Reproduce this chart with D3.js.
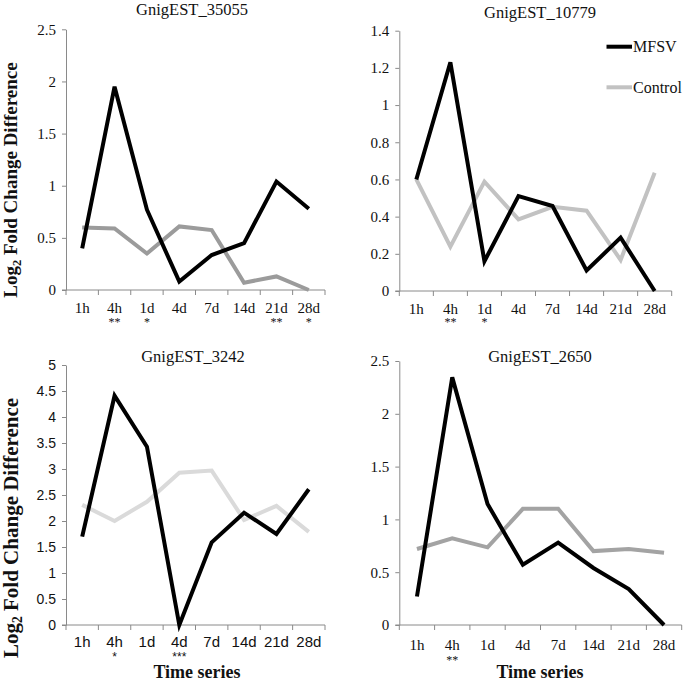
<!DOCTYPE html>
<html><head><meta charset="utf-8">
<script src="https://cdn.jsdelivr.net/npm/d3@7"></script>
<style>body{margin:0;background:#fff}</style></head>
<body>
<svg id="c" width="685" height="681"></svg>
<script>
const categories = ["1h","4h","1d","4d","7d","14d","21d","28d"];
const titles = ["GnigEST_35055","GnigEST_10779","GnigEST_3242","GnigEST_2650"];
const mfsv35055 = [0.40,1.95,0.77,0.08,0.335,0.45,1.04,0.78];
const control35055 = [0.60,0.59,0.35,0.61,0.575,0.07,0.13,0.0];
const mfsv10779 = [0.60,1.23,0.16,0.51,0.457,0.11,0.287,0.0];
const control10779 = [0.60,0.238,0.588,0.385,0.453,0.432,0.167,0.636];
const mfsv3242 = [1.70,4.41,3.43,0.0,1.59,2.16,1.75,2.61];
const control3242 = [2.31,2.0,2.37,2.93,2.97,2.02,2.29,1.79];
const mfsv2650 = [0.27,2.345,1.146,0.57,0.78,0.54,0.34,0.0];
const control2650 = [0.72,0.82,0.735,1.10,1.10,0.70,0.72,0.685];
const sig35055 = ["","**","*","","","","**","*"];
const sig10779 = ["","**","*","","","","",""];
const sig3242 = ["","*","","***","","","",""];
const sig2650 = ["","**","","","","","",""];
const yMax = [2.5,1.4,5,2.5];
const yStep = [0.5,0.2,0.5,0.5];
const seriesNames = ["MFSV","Control"];
const xTitle = "Time series";

const SERIF = "'Liberation Serif','Times New Roman',serif";
const SANS = "'Liberation Sans',Arial,sans-serif";

const panels = [
  {mfsv:mfsv35055, ctrl:control35055, sig:sig35055, x0:66, x1:325, yb:290, yt:29.3, font:SERIF, ytSize:15, ctrlColor:"#9b9b9b",
   title:{x:192,y:15}, labY:312.5, sigY:325.5, ylab:{x:16.5, y:180, size:19}},
  {mfsv:mfsv10779, ctrl:control10779, sig:sig10779, x0:399.3, x1:671.7, yb:291, yt:30.7, font:SERIF, ytSize:15, ctrlColor:"#c2c2c2",
   title:{x:540,y:18}, labY:313.5, sigY:326, legend:true},
  {mfsv:mfsv3242, ctrl:control3242, sig:sig3242, x0:66, x1:325, yb:625, yt:365, font:SANS, ytSize:14, ctrlColor:"#dadada",
   title:{x:193,y:362}, labY:646.5, sigY:660.5, ylab:{x:18, y:528, size:21}, xlab:{x:197,y:678}},
  {mfsv:mfsv2650, ctrl:control2650, sig:sig2650, x0:399.3, x1:681.7, yb:625, yt:361, font:SERIF, ytSize:15, ctrlColor:"#a3a3a3",
   title:{x:540,y:362}, labY:650, sigY:664, xlab:{x:540,y:678}}
];

const svg = d3.select("#c");
const axisColor = "#8a8a8a";

panels.forEach((p, i) => {
  const g = svg.append("g");
  const x = d3.scaleBand().domain(categories).range([p.x0, p.x1]).paddingInner(0).paddingOuter(0);
  const y = d3.scaleLinear().domain([0, yMax[i]]).range([p.yb, p.yt]);
  const n = Math.round(yMax[i] / yStep[i]);
  const yTicks = d3.range(n + 1).map(k => +(k * yStep[i]).toFixed(2));
  const fmt = d => String(+d.toFixed(1));

  // y axis
  const ya = g.append("g").attr("transform", `translate(${p.x0},0)`)
    .call(d3.axisLeft(y).tickValues(yTicks).tickFormat(fmt).tickSizeOuter(0).tickSizeInner(4).tickPadding(6));
  ya.select(".domain").attr("stroke", axisColor);
  ya.selectAll(".tick line").attr("stroke", axisColor);
  ya.selectAll(".tick text").attr("fill", "#111").style("font-family", p.font).style("font-size", p.ytSize + "px");

  // x axis line
  g.append("line").attr("x1", p.x0 - 4).attr("x2", p.x1).attr("y1", p.yb).attr("y2", p.yb)
    .attr("stroke", axisColor).attr("stroke-width", 1);
  // tick marks at band boundaries
  const bounds = categories.map(c => x(c)).concat([x(categories[categories.length - 1]) + x.bandwidth()]);
  g.selectAll(".xt").data(bounds).enter().append("line")
    .attr("x1", d => d).attr("x2", d => d).attr("y1", p.yb).attr("y2", p.yb + 5)
    .attr("stroke", axisColor).attr("stroke-width", 1);
  // category labels
  g.selectAll(".xl").data(categories).enter().append("text")
    .attr("x", d => x(d) + x.bandwidth() / 2).attr("y", p.labY)
    .attr("text-anchor", "middle").style("font-family", p.font).style("font-size", "15px").attr("fill", "#111")
    .text(d => d);
  // significance stars
  g.selectAll(".sg").data(categories).enter().append("text")
    .attr("x", d => x(d) + x.bandwidth() / 2).attr("y", p.sigY)
    .attr("text-anchor", "middle").style("font-family", p.font).style("font-size", "12px").attr("fill", "#111")
    .text((d, k) => p.sig[k]);

  const line = d3.line().x((d, k) => x(categories[k]) + x.bandwidth() / 2).y(d => y(d));
  g.append("path").datum(p.ctrl).attr("d", line).attr("fill", "none")
    .attr("stroke", p.ctrlColor).attr("stroke-width", 4).attr("stroke-linejoin", "miter");
  g.append("path").datum(p.mfsv).attr("d", line).attr("fill", "none")
    .attr("stroke", "#000").attr("stroke-width", 4).attr("stroke-linejoin", "miter");

  // title
  g.append("text").attr("x", p.title.x).attr("y", p.title.y).attr("text-anchor", "middle")
    .style("font-family", SERIF).style("font-size", "16.5px").attr("fill", "#111").text(titles[i]);

  if (p.ylab) {
    const t = g.append("text").attr("transform", `translate(${p.ylab.x},${p.ylab.y}) rotate(-90)`)
      .attr("text-anchor", "middle").style("font-family", SERIF).style("font-weight", "bold")
      .style("font-size", p.ylab.size + "px").attr("fill", "#111");
    t.append("tspan").text("Log");
    t.append("tspan").attr("dy", 4).style("font-size", (p.ylab.size * 0.65) + "px").text("2");
    t.append("tspan").attr("dy", -4).text(" Fold  Change Difference");
  }
  if (p.xlab) {
    g.append("text").attr("x", p.xlab.x).attr("y", p.xlab.y).attr("text-anchor", "middle")
      .style("font-family", SERIF).style("font-weight", "bold").style("font-size", "18px").attr("fill", "#111")
      .text(xTitle);
  }
  if (p.legend) {
    const lg = [{name: seriesNames[0], color: "#000", y: 46.7}, {name: seriesNames[1], color: p.ctrlColor, y: 87.3}];
    lg.forEach(l => {
      g.append("line").attr("x1", 606.5).attr("x2", 632).attr("y1", l.y).attr("y2", l.y)
        .attr("stroke", l.color).attr("stroke-width", 4);
      g.append("text").attr("x", 633).attr("y", l.y + 5.5).style("font-family", SERIF).style("font-size", "16px")
        .attr("fill", "#111").text(l.name);
    });
  }
});
</script>
</body></html>
